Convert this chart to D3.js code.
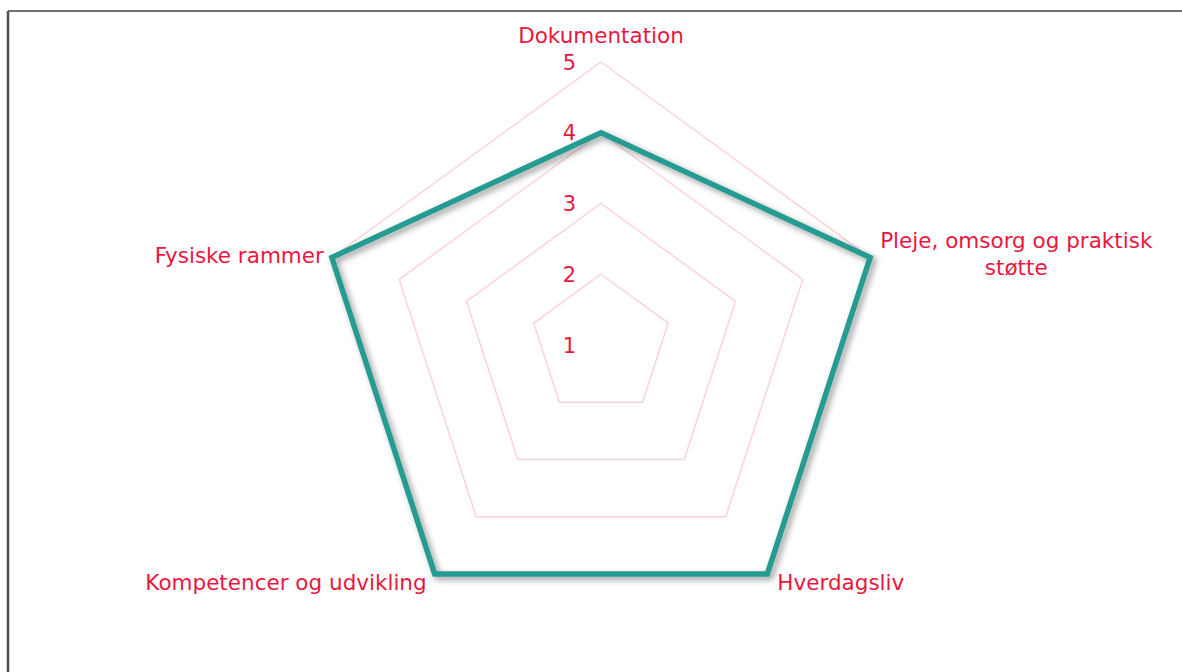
<!DOCTYPE html>
<html>
<head>
<meta charset="utf-8">
<script src="https://cdn.jsdelivr.net/npm/d3@7"></script>
<style>
  html, body { margin: 0; padding: 0; background: #fff; }
  svg { display: block; }
  text { font-family: "DejaVu Sans", Verdana, sans-serif; fill: #e8173f; }
</style>
</head>
<body>
<svg id="chart"></svg>
<script>
// --- DATA ---
const categories = ["Dokumentation", "Pleje, omsorg og praktisk støtte", "Hverdagsliv", "Kompetencer og udvikling", "Fysiske rammer"];
const scores = [4, 5, 5, 5, 5];
const tickValues = [1, 2, 3, 4, 5];

const width = 1182, height = 672;
const cx = 601, cy = 345, outerR = 283;

const svg = d3.select("#chart").attr("width", width).attr("height", height);

// frame (only top + left edges are visible in the original)
svg.append("line").attr("x1", 8).attr("x2", width).attr("y1", 11).attr("y2", 11)
    .attr("stroke", "#404040").attr("stroke-width", 1.5);
svg.append("line").attr("x1", 8).attr("x2", 8).attr("y1", 11).attr("y2", height)
    .attr("stroke", "#505050").attr("stroke-width", 2.5);

const defs = svg.append("defs");
const f = defs.append("filter").attr("id", "shadow").attr("x", "-10%").attr("y", "-10%").attr("width", "120%").attr("height", "120%");
f.append("feDropShadow").attr("dx", 3).attr("dy", 3).attr("stdDeviation", 3)
    .attr("flood-color", "#000").attr("flood-opacity", 0.4);

// --- SCALES ---
const rScale = d3.scaleLinear().domain([1, 5]).range([0, outerR]);
const angle = i => i * 2 * Math.PI / categories.length;
const pt = (i, v) => [cx + rScale(v) * Math.sin(angle(i)), cy - rScale(v) * Math.cos(angle(i))];

const g = svg.append("g");

// --- GRID ---
const gridLine = d3.line().curve(d3.curveLinearClosed);
g.selectAll(".grid").data(tickValues.filter(t => t > 1)).join("path")
    .attr("class", "grid")
    .attr("d", t => gridLine(categories.map((c, i) => pt(i, t))))
    .attr("fill", "none").attr("stroke", "#fbd3d9").attr("stroke-width", 1.5);

// tick labels
g.selectAll(".tick").data(tickValues).join("text")
    .attr("class", "tick")
    .attr("x", cx - 25).attr("y", t => pt(0, t)[1])
    .attr("dy", "0.36em").attr("text-anchor", "end")
    .style("font-size", "21px")
    .text(d => d);

// --- SERIES ---
g.append("path")
    .datum(scores)
    .attr("d", d => gridLine(d.map((v, i) => pt(i, v))))
    .attr("fill", "none").attr("stroke", "#279b92").attr("stroke-width", 5.5)
    .attr("stroke-linejoin", "miter")
    .attr("filter", "url(#shadow)");

// --- CATEGORY LABELS ---
const labels = g.selectAll(".cat").data(categories).join("text")
    .attr("class", "cat")
    .style("font-size", "21.5px");

labels.each(function(name, i) {
    const a = angle(i);
    const s = Math.sin(a), c = Math.cos(a);
    const [px, py] = pt(i, 5);
    const el = d3.select(this);
    let anchor = "middle", x = px, y = py;
    if (Math.abs(s) < 0.01) { y = py - 19; }
    else if (s > 0) { anchor = "start"; x = px + 10; y = py + (c > 0 ? 5 : 16); }
    else { anchor = "end"; x = px - 8; y = py + (c > 0 ? 5 : 16); }

    // wrap long names
    const words = name.split(" ");
    const lines = [];
    let cur = [];
    const maxW = 290;
    words.forEach(w => {
        cur.push(w);
        el.text(cur.join(" "));
        if (el.node().getComputedTextLength() > maxW && cur.length > 1) {
            cur.pop();
            lines.push(cur.join(" "));
            cur = [w];
        }
    });
    lines.push(cur.join(" "));
    el.text(null);

    if (lines.length > 1) {
        // multi-line labels are centred on their own block
        let w = 0;
        lines.forEach(l => { el.text(l); w = Math.max(w, el.node().getComputedTextLength()); });
        el.text(null);
        const mid = anchor === "start" ? x + w / 2 : anchor === "end" ? x - w / 2 : x;
        anchor = "middle";
        y = y - 15;
        lines.forEach((l, k) => el.append("tspan").attr("x", mid).attr("y", y + k * 27).text(l));
    } else {
        el.attr("x", x).attr("y", y).text(lines[0]);
    }
    el.attr("text-anchor", anchor);
});
</script>
</body>
</html>
